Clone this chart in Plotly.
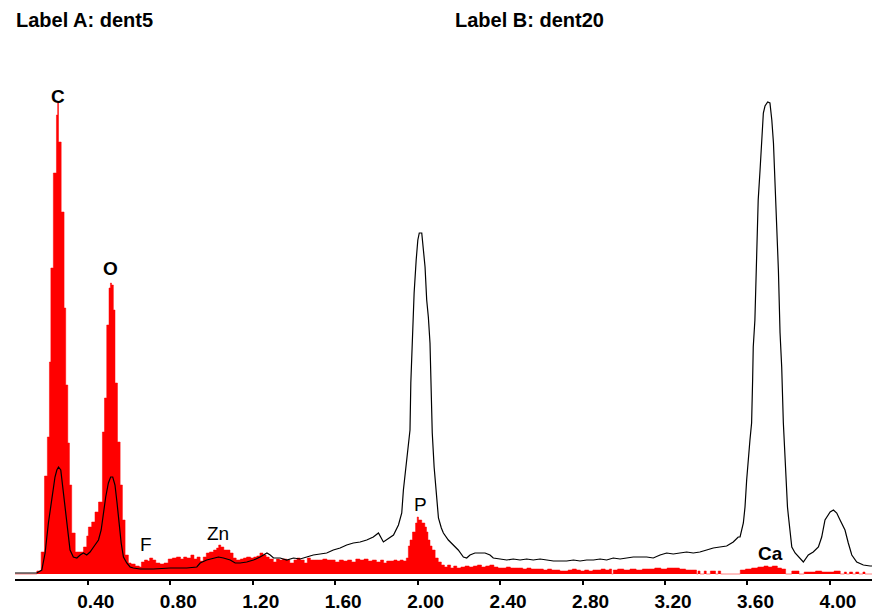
import plotly.graph_objects as go

# ---- data: Label A (dent5) red filled spectrum ----
red_kev = [0.047, 0.153, 0.174, 0.190, 0.204, 0.214, 0.221, 0.233, 0.248, 0.254, 0.258, 0.271, 0.285,
           0.293, 0.303, 0.311, 0.322, 0.339, 0.379, 0.395, 0.403, 0.419, 0.435, 0.452, 0.471, 0.481,
           0.492, 0.503, 0.510, 0.515, 0.524, 0.532, 0.544, 0.557, 0.568, 0.581, 0.597, 0.61, 0.63,
           0.65, 0.66, 0.675, 0.69, 0.70, 0.715, 0.73, 0.75, 0.77, 0.79, 0.81, 0.83, 0.85, 0.865,
           0.88, 0.90, 0.915, 0.93, 0.945, 0.96, 0.975, 0.99, 1.01, 1.025, 1.035, 1.045, 1.06, 1.075,
           1.09, 1.105, 1.12, 1.14, 1.155, 1.17, 1.19, 1.205, 1.22, 1.235, 1.25, 1.265, 1.28, 1.30,
           1.315, 1.33, 1.345, 1.365, 1.38, 1.40, 1.415, 1.43, 1.45, 1.465, 1.48, 1.50, 1.52, 1.54,
           1.56, 1.58, 1.60, 1.62, 1.64, 1.66, 1.68, 1.70, 1.72, 1.74, 1.76, 1.78, 1.80, 1.82, 1.835,
           1.85, 1.87, 1.885, 1.90, 1.915, 1.93, 1.945, 1.955, 1.963, 1.975, 1.99, 1.998, 2.004, 2.02,
           2.035, 2.043, 2.05, 2.06, 2.07, 2.085, 2.10, 2.115, 2.13, 2.145, 2.16, 2.175, 2.19, 2.21,
           2.23, 2.25, 2.27, 2.29, 2.31, 2.33, 2.35, 2.37, 2.39, 2.41, 2.43, 2.45, 2.47, 2.49, 2.51,
           2.53, 2.55, 2.57, 2.59, 2.61, 2.63, 2.65, 2.67, 2.69, 2.71, 2.73, 2.75, 2.77, 2.79, 2.81,
           2.83, 2.85, 2.87, 2.89, 2.91, 2.93, 2.941, 2.949, 2.97, 3.00, 3.03, 3.06, 3.09, 3.12, 3.15,
           3.18, 3.21, 3.24, 3.27, 3.30, 3.33, 3.353, 3.36, 3.37, 3.39, 3.40, 3.42, 3.445, 3.458,
           3.47, 3.565, 3.59, 3.62, 3.65, 3.68, 3.70, 3.72, 3.745, 3.765, 3.785, 3.815, 3.85, 3.875,
           3.90, 3.93, 3.96, 3.99, 4.02, 4.05, 4.07, 4.08, 4.095, 4.11, 4.125, 4.14, 4.16, 4.17, 4.21]
red_counts = [0, 3, 22, 98, 137, 212, 306, 401, 459, 471, 432, 362, 266,
              189, 131, 89, 41, 22, 27, 38, 47, 52, 62, 72, 142, 176,
              249, 286, 291, 289, 264, 191, 132, 89, 54, 19, 11, 10, 8,
              7, 12, 14, 13, 16, 14, 11, 10, 11, 15, 16, 17, 15, 17,
              16, 19, 15, 17, 13, 17, 21, 22, 24, 26, 29, 27, 24, 24,
              21, 16, 14, 15, 16, 17, 16, 17, 18, 21, 19, 17, 15, 12,
              15, 14, 15, 14, 11, 14, 16, 14, 11, 16, 14, 14, 14, 15,
              14, 14, 12, 14, 13, 14, 12, 15, 14, 15, 13, 14, 12, 14, 11,
              13, 13, 14, 13, 14, 13, 16, 28, 34, 42, 51, 57, 54, 51,
              47, 42, 34, 28, 24, 16, 12, 9, 7, 9, 6, 8, 6, 7,
              8, 7, 8, 9, 7, 8, 9, 7, 6, 6, 7, 6, 6, 6, 5,
              6, 5, 5, 5, 4, 5, 4, 4, 3, 3, 4, 5, 4, 3, 4,
              3, 4, 4, 5, 4, 5, 0, 4, 5, 4, 5, 4, 5, 5, 6,
              5, 6, 6, 5, 4, 4, 0, 3, 0, 3, 0, 3, 0, 3,
              0, 4, 5, 6, 7, 8, 7, 8, 6, 5, 0, 3, 0, 2,
              2, 3, 2, 2, 3, 0, 2, 0, 2, 0, 2, 0, 2, 0, 0]

# ---- data: Label B (dent20) black line spectrum ----
blk_kev = [0.047, 0.153, 0.177, 0.193, 0.209, 0.225, 0.241, 0.250, 0.258, 0.269, 0.282, 0.290, 0.298,
           0.306, 0.314, 0.330, 0.347, 0.363, 0.379, 0.395, 0.411, 0.435, 0.452, 0.465, 0.476, 0.487,
           0.500, 0.511, 0.521, 0.532, 0.542, 0.552, 0.562, 0.573, 0.589, 0.605, 0.621, 0.654, 0.718,
           0.799, 0.880, 0.929, 0.945, 0.977, 1.010, 1.034, 1.058, 1.091, 1.115, 1.139, 1.171, 1.204,
           1.236, 1.255, 1.269, 1.285, 1.301, 1.333, 1.365, 1.398, 1.430, 1.462, 1.494, 1.527, 1.559,
           1.591, 1.624, 1.656, 1.688, 1.721, 1.753, 1.785, 1.810, 1.834, 1.858, 1.883, 1.907, 1.923,
           1.931, 1.947, 1.963, 1.967, 1.975, 1.983, 1.993, 2.001, 2.008, 2.020, 2.028, 2.036, 2.044,
           2.052, 2.060, 2.065, 2.071, 2.080, 2.089, 2.101, 2.115, 2.125, 2.149, 2.173, 2.197, 2.222,
           2.238, 2.254, 2.278, 2.303, 2.327, 2.351, 2.367, 2.400, 2.432, 2.464, 2.497, 2.529, 2.561,
           2.594, 2.626, 2.659, 2.691, 2.723, 2.756, 2.788, 2.820, 2.853, 2.885, 2.917, 2.949, 2.982,
           3.014, 3.046, 3.078, 3.111, 3.143, 3.176, 3.208, 3.240, 3.272, 3.305, 3.337, 3.369, 3.402,
           3.434, 3.466, 3.499, 3.531, 3.555, 3.564, 3.580, 3.588, 3.596, 3.612, 3.620, 3.625, 3.628,
           3.636, 3.644, 3.652, 3.661, 3.669, 3.677, 3.685, 3.698, 3.709, 3.718, 3.726, 3.734, 3.742,
           3.750, 3.758, 3.766, 3.774, 3.783, 3.794, 3.799, 3.815, 3.831, 3.847, 3.871, 3.895, 3.919,
           3.944, 3.960, 3.976, 4.001, 4.017, 4.033, 4.049, 4.073, 4.089, 4.106, 4.130, 4.162, 4.195,
           4.21]
blk_counts = [1, 1, 4, 21, 51, 77, 97, 104, 107, 104, 81, 64, 47,
              34, 24, 17, 16, 19, 21, 19, 22, 29, 34, 44, 61, 77,
              91, 97, 97, 89, 71, 51, 31, 17, 11, 7, 6, 5, 5,
              6, 6, 7, 11, 14, 16, 17, 16, 14, 11, 11, 12, 14,
              17, 19, 21, 19, 16, 16, 14, 16, 15, 17, 19, 20, 21,
              24, 26, 29, 31, 32, 34, 37, 41, 32, 35, 39, 49, 61,
              84, 114, 144, 191, 241, 281, 314, 334, 341, 341, 324, 307, 274,
              257, 231, 187, 141, 107, 81, 56, 46, 41, 34, 29, 24, 17,
              16, 19, 21, 21, 21, 19, 16, 15, 14, 15, 14, 15, 14,
              15, 14, 13, 13, 13, 14, 13, 14, 14, 15, 14, 16, 15,
              16, 17, 17, 17, 16, 19, 21, 20, 21, 22, 21, 22, 24,
              26, 27, 28, 32, 37, 37, 51, 67, 94, 134, 151, 194, 227,
              254, 317, 374, 404, 441, 461, 468, 472, 471, 454, 431, 387, 354,
              304, 241, 207, 151, 111, 67, 57, 27, 21, 17, 12, 19, 22,
              27, 37, 54, 62, 64, 61, 54, 44, 31, 19, 12, 9, 8,
              8]

tick_vals = [0.40, 0.80, 1.20, 1.60, 2.00, 2.40, 2.80, 3.20, 3.60, 4.00]
tick_text = ["0.40", "0.80", "1.20", "1.60", "2.00", "2.40", "2.80", "3.20", "3.60", "4.00"]

peak_names = ["C", "O", "F", "Zn", "P", "Ca"]
peak_kev = [0.256, 0.511, 0.683, 1.030, 2.012, 3.711]
peak_lbl_y = [478, 306, 30, 41, 70, 21]
peak_bold = [True, True, False, False, False, True]

FONT = "Liberation Sans, Arial, sans-serif"

fig = go.Figure()
fig.add_trace(go.Scatter(
    x=red_kev, y=red_counts, mode="lines", line=dict(color="#ff0000", width=0.5, shape="hv"),
    fill="tozeroy", fillcolor="#ff0000", name="dent5", hoverinfo="x+y"))
fig.add_trace(go.Scatter(
    x=blk_kev, y=blk_counts, mode="lines", line=dict(color="#000000", width=1.2),
    name="dent20", hoverinfo="x+y"))

for name, xk, yk, b in zip(peak_names, peak_kev, peak_lbl_y, peak_bold):
    fig.add_annotation(x=xk, y=yk, text=name, showarrow=False, xanchor="center", yanchor="middle",
                       font=dict(family=FONT, size=19, color="black", weight="bold" if b else "normal"))

fig.add_annotation(xref="paper", yref="paper", x=-0.001, y=1.037, xanchor="left", yanchor="middle",
                   text="Label A: dent5", showarrow=False,
                   font=dict(family=FONT, size=20, color="black", weight="bold"))
fig.add_annotation(xref="paper", yref="paper", x=0.511, y=1.037, xanchor="left", yanchor="middle",
                   text="Label B: dent20", showarrow=False,
                   font=dict(family=FONT, size=20, color="black", weight="bold"))

fig.update_layout(
    width=872, height=612,
    margin=dict(l=15, r=0, t=40, b=33, pad=0),
    paper_bgcolor="white", plot_bgcolor="white",
    showlegend=False,
    xaxis=dict(range=[0.047, 4.204], tickvals=tick_vals, ticktext=tick_text,
               ticks="outside", ticklen=4, tickwidth=1.5, tickcolor="black",
               showline=True, linecolor="black", linewidth=1.5,
               showgrid=False, zeroline=False, ticklabelshift=8,
               tickfont=dict(family=FONT, size=19, color="black", weight="bold")),
    yaxis=dict(range=[-5, 534], visible=False, showgrid=False, zeroline=False),
)

fig.write_html("out.html")
